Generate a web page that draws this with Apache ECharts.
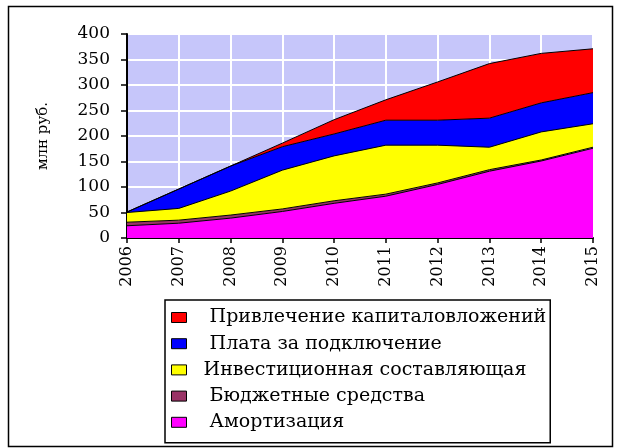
<!DOCTYPE html>
<html>
<head>
<meta charset="utf-8">
<style>
  html, body { margin: 0; padding: 0; background: #fff; }
  #chart { width: 624px; height: 448px; }
</style>
<script src="https://cdn.jsdelivr.net/npm/echarts@6/dist/echarts.min.js"></script>
</head>
<body>
<div id="chart"></div>
<script>
// Годы прогноза
const years = ['2006', '2007', '2008', '2009', '2010', '2011', '2012', '2013', '2014', '2015'];

// Источники финансирования, млн руб.
const amortization   = [24, 29, 39, 52, 68, 82, 105, 131, 151, 176];
const budgetFunds    = [7, 6, 6, 5, 5, 4, 3, 3, 2, 2];
const investPart     = [19, 23, 47, 76, 88, 96, 74, 44, 55, 46];
const connectionFee  = [1, 38, 49, 46, 43, 49, 49, 57, 57, 61];
const capitalRaising = [0, 0, 0, 7, 28, 40, 75, 107, 97, 86];

const yTicks = { min: 0, max: 400, interval: 50 };

const names = {
  cap: 'Привлечение капиталовложений',
  fee: 'Плата за подключение',
  inv: 'Инвестиционная составляющая',
  bud: 'Бюджетные средства',
  amo: 'Амортизация'
};

const FONT = 'DejaVu Serif';

function areaSeries(name, data, color) {
  return {
    name: name,
    type: 'line',
    stack: 'total',
    data: data,
    symbol: 'none',
    smooth: false,
    z: 3,
    itemStyle: { color: color, borderColor: '#000', borderWidth: 1 },
    lineStyle: { color: '#000', width: 1 },
    areaStyle: { color: color, opacity: 1 },
    emphasis: { disabled: true }
  };
}

const chart = echarts.init(document.getElementById('chart'), null, { renderer: 'canvas' });

chart.setOption({
  animation: false,
  backgroundColor: '#fff',
  textStyle: { fontFamily: FONT },
  grid: {
    left: 127, right: 31, top: 34, bottom: 210,
    show: true,
    backgroundColor: 'transparent',
    borderColor: '#808080',
    borderWidth: 1
  },
  graphic: [{
    type: 'rect',
    silent: true,
    z: -1,
    shape: { x: 8.5, y: 6.5, width: 604, height: 440 },
    style: { fill: 'none', stroke: '#000', lineWidth: 1.5 }
  }],
  legend: {
    orient: 'vertical',
    left: 165,
    top: 300,
    data: [names.cap, names.fee, names.inv, names.bud, names.amo],
    icon: 'rect',
    itemWidth: 15,
    itemHeight: 10,
    itemGap: 7.2,
    padding: [8, 4, 11, 6],
    borderColor: '#000',
    borderWidth: 1.5,
    backgroundColor: '#fff',
    itemStyle: { borderColor: '#000', borderWidth: 1 },
    selectedMode: false,
    // the investment line sits a little closer to its swatch
    formatter: function (n) {
      return (n === names.inv ? '  ' : '   ') + n;
    },
    textStyle: {
      fontFamily: FONT,
      fontSize: 19,
      color: '#000'
    }
  },
  xAxis: {
    type: 'category',
    data: years,
    boundaryGap: false,
    z: 2,
    axisLine: { lineStyle: { color: '#000', width: 2 } },
    axisTick: { show: true, alignWithLabel: true, length: 5, lineStyle: { color: '#000', width: 1.5 } },
    axisLabel: {
      rotate: 90,
      interval: 0,
      margin: 8,
      fontFamily: FONT,
      fontSize: 16,
      color: '#000'
    },
    splitLine: { show: true, lineStyle: { color: '#fff', width: 2 } }
  },
  yAxis: {
    type: 'value',
    min: yTicks.min,
    max: yTicks.max,
    interval: yTicks.interval,
    z: 2,
    name: 'млн руб.',
    nameLocation: 'middle',
    nameRotate: 90,
    nameGap: 76,
    nameTextStyle: { fontFamily: FONT, fontSize: 15, color: '#000' },
    axisLine: { show: true, lineStyle: { color: '#000', width: 2 } },
    axisTick: { show: true, length: 6, lineStyle: { color: '#000', width: 1.5 } },
    axisLabel: {
      margin: 17,
      fontFamily: FONT,
      fontSize: 17,
      color: '#000'
    },
    splitArea: { show: true, areaStyle: { color: ['#C6C6FA', '#C6C6FA'] } },
    splitLine: { show: true, lineStyle: { color: '#fff', width: 2 } }
  },
  series: [
    areaSeries(names.amo, amortization, '#FF00FF'),
    areaSeries(names.bud, budgetFunds, '#993366'),
    areaSeries(names.inv, investPart, '#FFFF00'),
    areaSeries(names.fee, connectionFee, '#0000FF'),
    areaSeries(names.cap, capitalRaising, '#FF0000')
  ]
});
</script>
</body>
</html>
